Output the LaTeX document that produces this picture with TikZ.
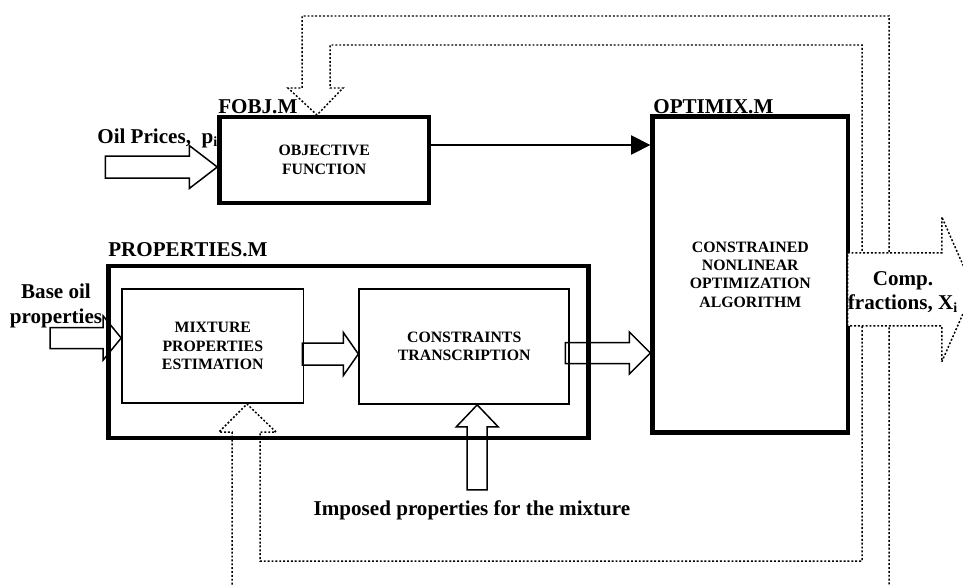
\documentclass[tikz,border=0pt]{standalone}
\usepackage{fontspec}
\setmainfont{Liberation Serif}
\usetikzlibrary{arrows.meta}

\tikzset{
    bigbox/.style={draw, line width=2.5pt, inner sep=0, align=center,
        font=\fontsize{9}{10.5}\selectfont\bfseries},
    smallbox/.style={draw, line width=1pt, inner sep=0, align=center,
        font=\fontsize{9}{10.5}\selectfont\bfseries},
    lbl/.style={inner sep=0, font=\fontsize{12}{14}\selectfont\bfseries},
    blkarrow/.style={draw, line width=0.85pt},
    feedback/.style={line width=0.85pt, dash pattern=on 1.1pt off 1.1pt},
    % hollow block arrow, tip at the origin: length / shaft half / head half / head length
    pics/barrow/.style args={#1/#2/#3/#4}{code={
        \path[pic actions] (0,0) -- (-#4,#3) -- (-#4,#2) -- (-#1,#2) -- (-#1,-#2)
            -- (-#4,-#2) -- (-#4,-#3) -- cycle;
    }}
}

\begin{document}
\begin{tikzpicture}[x=0.02cm, y=-0.02cm]
    \useasboundingbox (0,0) rectangle (963,585);

    % Feedback loop (dotted hollow arrow)
    \draw[feedback] (232,600) -- (232,432) -- (219,432) -- (247,404) -- (276,432)
        -- (260,432) -- (260,561) -- (862,561) -- (862,45) -- (330,45) -- (330,88)
        -- (343,88) -- (317,115) -- (288,88) -- (302,88) -- (302,16) -- (889,16) -- (889,600);

    % Blocks
    \node[bigbox, minimum width=4.19cm, minimum height=1.73cm] (fobj) at (324.2,160) {OBJECTIVE\\FUNCTION};
    \node[bigbox, minimum width=3.91cm, minimum height=6.32cm] (optimix) at (750.3,274.6) {CONSTRAINED\\NONLINEAR\\OPTIMIZATION\\ALGORITHM};
    \node[bigbox, minimum width=9.6cm, minimum height=3.45cm] (props) at (348.5,352) {};
    \node[smallbox, minimum width=3.63cm, minimum height=2.29cm] (mix) at (212.8,345.9) {MIXTURE\\PROPERTIES\\ESTIMATION};
    \node[smallbox, minimum width=4.2cm, minimum height=2.3cm] (cons) at (464.2,346.5) {CONSTRAINTS\\TRANSCRIPTION};

    % Labels
    \node[lbl, anchor=base west] (fobjlbl) at (218,113) {FOBJ.M};
    \node[lbl, anchor=base west] (optlbl) at (653,113) {OPTIMIX.M};
    \node[lbl, anchor=base west] (propslbl) at (108,256) {PROPERTIES.M};
    \node[lbl, anchor=base west] (oillbl) at (97,143) {Oil Prices,~~p\textsubscript{i}};
    \node[lbl, align=center] (baselbl) at (56,306) {Base oil\\properties};
    \node[lbl, anchor=base] (implbl) at (472,515) {Imposed properties for the mixture};

    % Connectors
    \draw[line width=0.6pt, -{Triangle[length=11pt, width=11pt]}] (fobj.east |- 0,145) -- (optimix.west |- 0,145);
    \pic[blkarrow] at (fobj.west |- 0,167) {barrow=112/11/21.5/28};
    \pic[blkarrow] at (mix.west |- 0,338) {barrow=71/10.5/22/18};
    \pic[blkarrow] at (cons.west |- 0,354) {barrow=56/11/21.5/15};
    \pic[blkarrow] at (optimix.west |- 0,353) {barrow=85/10.5/21/21};
    \pic[blkarrow, rotate=90] at ([xshift=7.4pt]cons.south) {barrow=85/10/21/22};

    % Output
    \pic[feedback, draw, fill=white] at ([xshift=70.3pt, yshift=-8.4pt]optimix.east) {barrow=126/36.5/72.5/32};
    \node[lbl, align=center] (complbl) at (903,292) {Comp.\\fractions, X\textsubscript{i}};
\end{tikzpicture}
\end{document}
